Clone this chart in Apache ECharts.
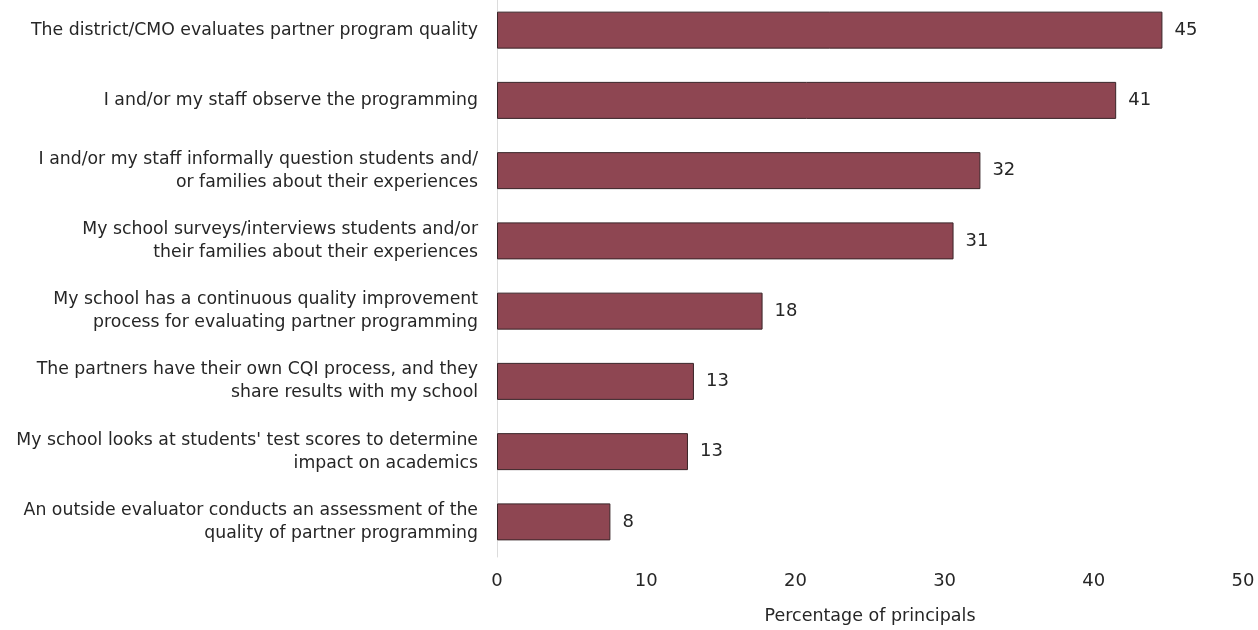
<!DOCTYPE html>
<html>
<head>
<meta charset="utf-8">
<script src="https://cdn.jsdelivr.net/npm/echarts@6/dist/echarts.min.js"></script>
<style>
  html, body { margin: 0; padding: 0; background: #fff; overflow: hidden; }
  /* plot in the source starts a few pixels above the page edge */
  #chart { position: relative; top: -5px; width: 1258px; height: 635px; }
</style>
</head>
<body>
<div id="chart"></div>
<script>
  // categories, top to bottom
  var categories = [
    'The district/CMO evaluates partner program quality',
    'I and/or my staff observe the programming',
    'I and/or my staff informally question students and/\nor families about their experiences',
    'My school surveys/interviews students and/or\ntheir families about their experiences',
    'My school has a continuous quality improvement\nprocess for evaluating partner programming',
    'The partners have their own CQI process, and they\nshare results with my school',
    'My school looks at students\' test scores to determine\nimpact on academics',
    'An outside evaluator conducts an assessment of the\nquality of partner programming'
  ];
  // bar lengths
  var values = [44.6, 41.5, 32.4, 30.6, 17.8, 13.2, 12.8, 7.6];
  // printed labels
  var labels = [45, 41, 32, 31, 18, 13, 13, 8];

  var font = '"DejaVu Sans", sans-serif';
  var chart = echarts.init(document.getElementById('chart'));
  chart.setOption({
    animation: false,
    grid: { left: 497, right: 15, top: 0, bottom: 71, containLabel: false },
    xAxis: {
      type: 'value',
      min: 0, max: 50, interval: 10,
      name: 'Percentage of principals',
      nameLocation: 'middle',
      nameGap: 50,
      nameTextStyle: { fontFamily: font, fontSize: 17.5, color: '#262626' },
      axisLine: { show: false },
      axisTick: { show: false },
      splitLine: { show: false },
      axisLabel: { fontFamily: font, fontSize: 18, color: '#262626', margin: 15 }
    },
    yAxis: {
      type: 'category',
      inverse: true,
      data: categories,
      axisLine: { show: true, lineStyle: { color: '#dcdcdc', width: 1 } },
      axisTick: { show: false },
      axisLabel: { fontFamily: font, fontSize: 17.3, color: '#262626', lineHeight: 23, margin: 19, align: 'right' }
    },
    series: [{
      type: 'bar',
      data: values,
      barWidth: 37,
      itemStyle: { color: '#8e4652', borderColor: '#3a2528', borderWidth: 1 },
      label: {
        show: true,
        position: 'right',
        distance: 12,
        fontFamily: font,
        fontSize: 18,
        color: '#262626',
        formatter: function (p) { return labels[p.dataIndex]; }
      }
    }]
  });
</script>
</body>
</html>
